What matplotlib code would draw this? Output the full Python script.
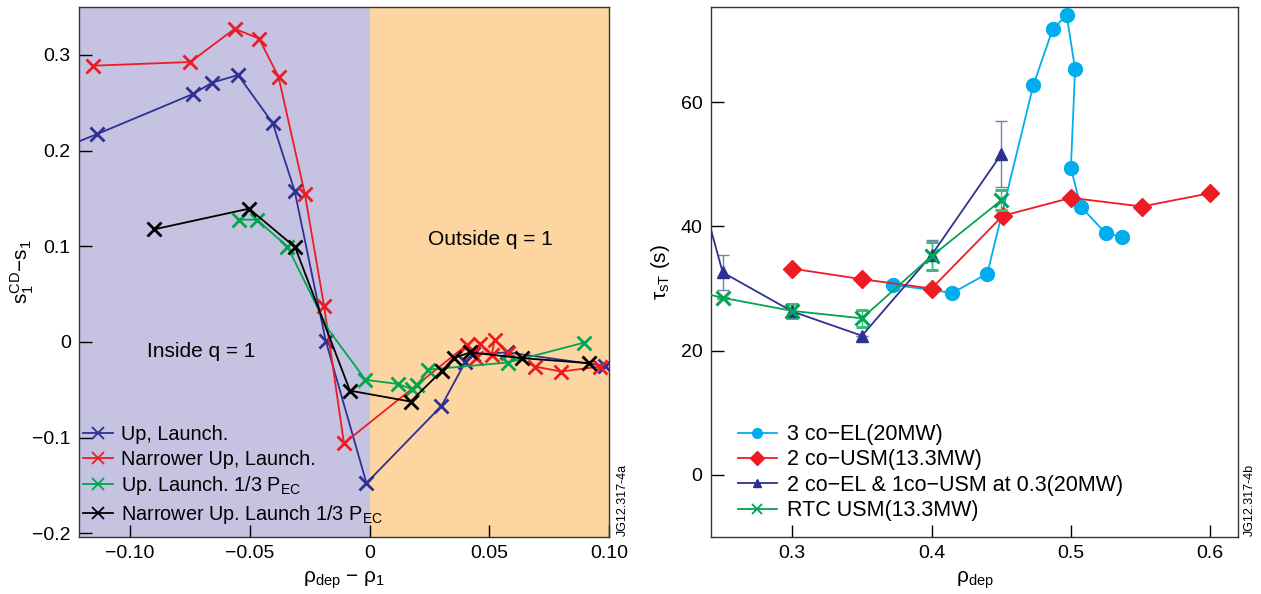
import numpy as np
import matplotlib
matplotlib.use("Agg")
import matplotlib.pyplot as plt
from matplotlib.lines import Line2D

plt.rcParams["font.family"] = ["Liberation Sans", "DejaVu Sans"]
plt.rcParams["mathtext.fontset"] = "custom"
plt.rcParams["mathtext.rm"] = "Liberation Sans"
plt.rcParams["mathtext.it"] = "Liberation Sans"
plt.rcParams["mathtext.default"] = "regular"

# ---- left panel data: s1^CD - s1 vs rho_dep - rho_1 ----
up_x = [-0.125, -0.114, -0.0739, -0.0658, -0.0549, -0.0404, -0.0313, -0.0183, -0.0013,
        0.030, 0.040, 0.043, 0.0574, 0.0983]
up_y = [0.206, 0.217, 0.259, 0.271, 0.279, 0.2285, 0.158, 0.001, -0.1477,
        -0.067, -0.021, -0.013, -0.011, -0.025]

narrow_x = [-0.1153, -0.0749, -0.0563, -0.0461, -0.038, -0.027, -0.019, -0.0107,
            0.0407, 0.0446, 0.0462, 0.051, 0.0522, 0.058, 0.069, 0.080, 0.0963]
narrow_y = [0.2888, 0.2926, 0.3274, 0.317, 0.277, 0.1543, 0.0376, -0.106,
            -0.003, -0.017, -0.002, -0.0136, 0.002, -0.012, -0.0258, -0.031, -0.0258]

third_x = [-0.0544, -0.0471, -0.0343, -0.0171, -0.0017, 0.0118, 0.0178, 0.0199, 0.0245,
           0.0577, 0.0897]
third_y = [0.1278, 0.1278, 0.0996, 0.0125, -0.0397, -0.044, -0.0494, -0.045, -0.029,
           -0.0216, -0.0007]

narrow_third_x = [-0.0899, -0.0503, -0.0311, -0.0082, 0.0171, 0.0303, 0.0351, 0.042,
                  0.0636, 0.0918]
narrow_third_y = [0.1177, 0.1393, 0.099, -0.051, -0.0624, -0.030, -0.017, -0.011,
                  -0.017, -0.0223]

# ---- right panel data: tau_sT vs rho_dep ----
el_x = [0.372, 0.415, 0.440, 0.473, 0.487, 0.497, 0.503, 0.500, 0.507, 0.525, 0.537]
el_y = [30.6, 29.3, 32.4, 62.7, 71.8, 74.0, 65.3, 49.4, 43.2, 38.9, 38.3]

usm_x = [0.300, 0.350, 0.400, 0.451, 0.500, 0.551, 0.600]
usm_y = [33.2, 31.5, 30.0, 41.7, 44.6, 43.2, 45.35]

mix_x = [0.235, 0.250, 0.300, 0.350, 0.400, 0.450]
mix_y = [44.9, 32.6, 26.3, 22.4, 35.4, 51.6]
mix_err = [0, 2.8, 1.0, 0, 2.4, 5.3]

rtc_x = [0.230, 0.250, 0.300, 0.350, 0.400, 0.450]
rtc_y = [29.6, 28.5, 26.4, 25.2, 35.2, 44.2]
rtc_err = [0, 0, 1.1, 1.4, 2.3, 1.6]

BLUE = "#2e3192"
RED = "#ed1c24"
GREEN = "#00a651"
CYAN = "#00aeef"
LAV = "#c5c3e1"
ORANGE = "#fdd5a0"
M = "\u2212"

fig = plt.figure(figsize=(12.61, 5.94), dpi=100)
ax1 = fig.add_axes([0.0627, 0.096, 0.4203, 0.892])
ax2 = fig.add_axes([0.5638, 0.096, 0.4180, 0.892])

# left panel
xlo, xhi = -0.1213, 0.100
ax1.axvspan(xlo, 0, color=LAV, lw=0, zorder=0)
ax1.axvspan(0, xhi, color=ORANGE, lw=0, zorder=0)

kw = dict(marker="x", ms=10, mew=2, lw=1.3)
ax1.plot(up_x, up_y, color=BLUE, label="Up, Launch.", **kw)
ax1.plot(narrow_x, narrow_y, color=RED, label="Narrower Up, Launch.", **kw)
ax1.plot(third_x, third_y, color=GREEN, label="Up. Launch. 1/3 P$_{EC}$",
         markevery=[0, 1, 2, 4, 5, 6, 7, 8, 9, 10], **kw)
ax1.plot(narrow_third_x, narrow_third_y, color="black",
         label="Narrower Up. Launch 1/3 P$_{EC}$", **kw)

ax1.set_xlim(xlo, xhi)
ax1.set_ylim(-0.204, 0.35)
ax1.set_xticks([-0.10, -0.05, 0, 0.05, 0.10])
ax1.set_xticklabels([M + "0.10", M + "0.05", "0", "0.05", "0.10"])
ax1.set_yticks([-0.2, -0.1, 0, 0.1, 0.2, 0.3])
ax1.set_yticklabels([M + "0.2", M + "0.1", "0", "0.1", "0.2", "0.3"])
ax1.set_xlabel("\u03c1$_{dep}$ " + M + " \u03c1$_1$", fontsize=15, labelpad=5)
ax1.set_ylabel("s$_1^{CD}$" + M + "s$_1$", fontsize=15, labelpad=-3)
ax1.text(-0.0704, -0.0104, "Inside q = 1", fontsize=15, ha="center", va="center")
ax1.text(0.0504, 0.1066, "Outside q = 1", fontsize=15, ha="center", va="center")
leg1 = ax1.legend(loc="upper left", bbox_to_anchor=(0.008, 0.211), frameon=False,
                  fontsize=14.3, handlelength=1.5, handletextpad=0.4, labelspacing=0.28,
                  borderaxespad=0, borderpad=0)
for h in leg1.legend_handles:
    h.set_markersize(8)
    h.set_markeredgewidth(1.3)
fig.text(0.4895, 0.098, "JG12.317-4a", rotation=90, fontsize=9, ha="left", va="bottom")

# right panel
ebkw = dict(capsize=4, elinewidth=1.0, capthick=1.0)
ax2.plot(el_x, el_y, color=CYAN, marker="o", ms=10, lw=1.3, zorder=3)
ax2.plot(usm_x, usm_y, color=RED, marker="D", ms=9, lw=1.3, zorder=3)
ax2.errorbar(mix_x, mix_y, yerr=mix_err, color=BLUE, ecolor="#7a7cb8", marker="^", ms=9,
             lw=1.3, zorder=4, **ebkw)
ax2.errorbar(rtc_x, rtc_y, yerr=rtc_err, color=GREEN, ecolor="#3dbb78", marker="x", ms=10,
             mew=2.2, lw=1.3, zorder=4, **ebkw)
ax2.set_xlim(0.2416, 0.620)
ax2.set_ylim(-10, 75.3)
ax2.set_xticks([0.3, 0.4, 0.5, 0.6])
ax2.set_yticks([0, 20, 40, 60])
ax2.set_xlabel("\u03c1$_{dep}$", fontsize=15, labelpad=5)
ax2.set_ylabel("\u03c4$_{sT}$ (s)", fontsize=15, labelpad=6)

handles = [
    Line2D([], [], color=CYAN, marker="o", ms=7, lw=1.3),
    Line2D([], [], color=RED, marker="D", ms=7, lw=1.3),
    Line2D([], [], color=BLUE, marker="^", ms=6, lw=1.3),
    Line2D([], [], color=GREEN, marker="x", ms=7, mew=1.3, lw=1.3),
]
labels = ["3 co" + M + "EL(20MW)", "2 co" + M + "USM(13.3MW)",
          "2 co" + M + "EL & 1co" + M + "USM at 0.3(20MW)", "RTC USM(13.3MW)"]
ax2.legend(handles, labels, loc="upper left", bbox_to_anchor=(0.051, 0.213),
           frameon=False, fontsize=15.5, handlelength=1.8, handletextpad=0.5,
           labelspacing=0.2, borderaxespad=0, borderpad=0)
fig.text(0.9865, 0.098, "JG12.317-4b", rotation=90, fontsize=9, ha="left", va="bottom")

for ax in (ax1, ax2):
    ax.tick_params(direction="in", length=9, width=1, labelsize=14, top=False, right=False,
                   pad=6)
    for s in ax.spines.values():
        s.set_color("#333333")
        s.set_linewidth(1.0)

fig.savefig("out.png", dpi=100)
